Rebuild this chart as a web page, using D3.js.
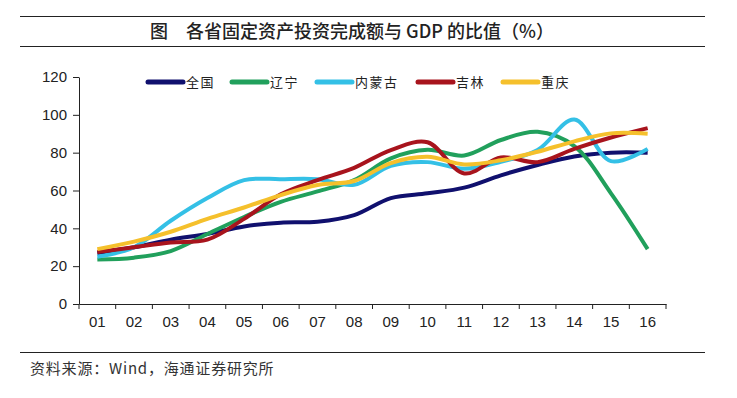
<!DOCTYPE html>
<html>
<head>
<meta charset="utf-8">
<script src="https://cdn.jsdelivr.net/npm/d3@7"></script>
<style>
  body { margin: 0; background: #fff; }
  svg { display: block; }
  .axis text { font-family: "Liberation Sans", Arial, sans-serif; font-size: 15px; fill: #222; }
  .axis path, .axis line { stroke: #222; stroke-width: 1; }
  .cjk { font-family: "Noto Sans CJK SC", sans-serif; }
</style>
</head>
<body>
<svg id="chart" width="737" height="398"></svg>
<script>
// categories (years 2001-2016)
const years = ['01','02','03','04','05','06','07','08','09','10','11','12','13','14','15','16'];
const yTicks = [0, 20, 40, 60, 80, 100, 120];

// ratio of fixed asset investment to GDP, %
const quanguo  = [27, 30, 34, 37, 41, 43, 43.5, 47, 56, 58.5, 61.5, 68, 73.5, 78, 80, 80];
const liaoning = [23.5, 24.5, 28, 37, 46, 54, 59.5, 65.5, 77, 81.5, 78.5, 86.7, 91, 83.5, 58.5, 29];
const neimenggu = [25, 30, 44, 56, 65.5, 66, 66, 63, 73, 75, 71.5, 75.2, 81.4, 97.5, 75.5, 82];
const jilin    = [27.5, 30, 32.5, 34, 45, 58, 65.5, 72, 81.4, 85.5, 69, 77.5, 75, 82, 88, 93];
const chongqing = [29, 33, 38.2, 45, 51, 57.6, 62.9, 65, 74.5, 77.8, 73.8, 76, 80.5, 86, 90.2, 90];

const seriesNames = ['全国', '辽宁', '内蒙古', '吉林', '重庆'];
const seriesValues = [quanguo, liaoning, neimenggu, jilin, chongqing];
const colors = ['#10106e', '#21a05c', '#34c0e6', '#a8141d', '#f5c02c'];

const svg = d3.select('#chart');
const plotLeft = 79, plotRight = 666, plotTop = 77, plotBottom = 304;

const x = d3.scaleBand().domain(years).range([plotLeft, plotRight]).padding(0);
const y = d3.scaleLinear().domain([0, 120]).range([plotBottom, plotTop]);

// title with rules
svg.append('line').attr('x1', 20).attr('x2', 705).attr('y1', 16.5).attr('y2', 16.5)
  .attr('stroke', '#222').attr('stroke-width', 1);
svg.append('line').attr('x1', 20).attr('x2', 705).attr('y1', 46.5).attr('y2', 46.5)
  .attr('stroke', '#222').attr('stroke-width', 1);
svg.append('text').attr('class', 'cjk')
  .attr('x', 352).attr('y', 38).attr('text-anchor', 'middle')
  .attr('font-size', 18).attr('font-weight', 500).attr('fill', '#222')
  .text('图　各省固定资产投资完成额与 GDP 的比值（%）');

// y axis
svg.append('g').attr('class', 'axis')
  .attr('transform', `translate(${plotLeft},0)`)
  .call(d3.axisLeft(y).tickValues(yTicks).tickSize(6).tickPadding(6).tickSizeOuter(0));

// x axis: labels at centers, ticks at band edges
const xg = svg.append('g').attr('class', 'axis')
  .attr('transform', `translate(0,${plotBottom})`)
  .call(d3.axisBottom(x).tickSize(0).tickPadding(12).tickSizeOuter(0));
xg.selectAll('.edge').data(years.map(d => x(d)).concat([plotRight]))
  .enter().append('line').attr('class', 'edge')
  .attr('x1', d => d).attr('x2', d => d).attr('y1', 0).attr('y2', 5);

// lines
const line = d3.line()
  .x((d, i) => x(years[i]) + x.bandwidth() / 2)
  .y(d => y(d))
  .curve(d3.curveCatmullRom.alpha(0.5));

svg.append('g').selectAll('path')
  .data(seriesValues)
  .enter().append('path')
  .attr('d', line)
  .attr('fill', 'none')
  .attr('stroke', (d, i) => colors[i])
  .attr('stroke-width', 4)
  .attr('stroke-linejoin', 'round');

// legend
const legendX = [148, 232, 317, 418, 503];
const lg = svg.append('g').selectAll('g')
  .data(seriesNames).enter().append('g')
  .attr('transform', (d, i) => `translate(${legendX[i]},82)`);
lg.append('line').attr('x1', 0).attr('x2', 35).attr('y1', 0).attr('y2', 0)
  .attr('stroke', (d, i) => colors[i]).attr('stroke-width', 5).attr('stroke-linecap', 'round');
lg.append('text').attr('class', 'cjk').attr('x', 38).attr('y', 5)
  .attr('font-size', 13).attr('letter-spacing', 1.5).attr('fill', '#222').text(d => d);

// source
svg.append('line').attr('x1', 20).attr('x2', 705).attr('y1', 352.5).attr('y2', 352.5)
  .attr('stroke', '#222').attr('stroke-width', 1);
svg.append('text').attr('class', 'cjk').attr('x', 30).attr('y', 374)
  .attr('font-size', 15).attr('letter-spacing', 0.8).attr('fill', '#333')
  .text('资料来源：Wind，海通证券研究所');
</script>
</body>
</html>
